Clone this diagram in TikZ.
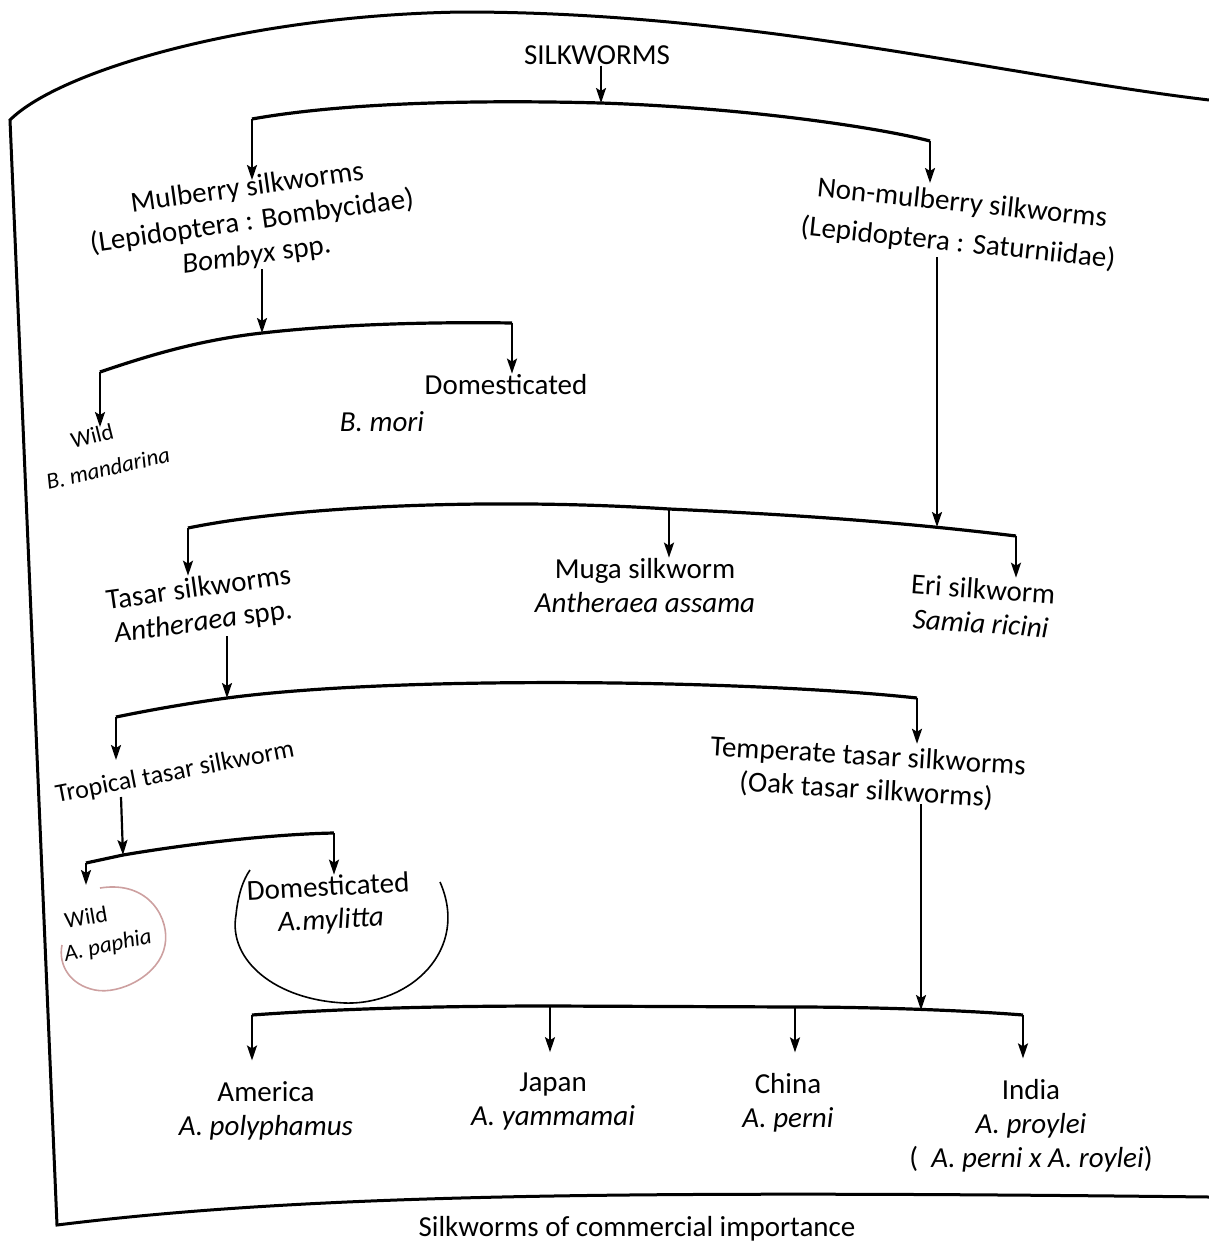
\documentclass[tikz,border=0pt]{standalone}
\usepackage{fontspec}
\setmainfont{Carlito}
\usetikzlibrary{arrows.meta}
\definecolor{pen}{RGB}{205,160,160}
\tikzset{
  lbl/.style={font=\fontsize{29}{34}\selectfont, inner sep=1pt, align=center},
  small/.style={font=\fontsize{23}{27}\selectfont, inner sep=1pt, align=center},
  arr/.style={-{Stealth[length=15pt,width=10pt,inset=3pt]}, line width=2.2pt},
  brk/.style={line width=3.2pt},
  ink/.style={line width=1.6pt},
}
\begin{document}
\begin{tikzpicture}[x=1pt,y=-1pt]
\useasboundingbox (0,0) rectangle (1209,1243);

% page frame
\draw[line width=3pt] (1209,100) .. controls (1000,75) and (750,12) .. (463,12)
  .. controls (250,15) and (60,70) .. (10,120) -- (57,1225)
  .. controls (300,1195) and (600,1190) .. (1209,1197);

% silkworms
\node[lbl] (silk) at (597,55) {SILKWORMS};
\coordinate (b1l) at (252,119);
\coordinate (b1m) at (601,103);
\coordinate (b1r) at (930,141);
\draw[brk] (b1l) .. controls (330,105) and (450,99) .. (b1m) .. controls (750,108) and (880,128) .. (b1r);
\draw[arr] (silk.south -| b1m) -- (b1m);

% mulberry
\node[lbl, rotate=8] (mulb) at (252,222) {Mulberry silkworms\\(Lepidoptera : Bombycidae)\\\textit{Bombyx} spp.};
\coordinate (mulbin) at (252,180);
\draw[arr] (b1l) -- (mulbin);

\coordinate (b2l) at (100,372);
\coordinate (b2m) at (262,333);
\coordinate (b2r) at (512,323);
\draw[brk] (b2l) .. controls (150,355) and (200,340) .. (b2m) .. controls (350,323) and (450,322) .. (b2r);
\draw[arr] (mulb.south -| b2m) -- (b2m);

\node[small, rotate=14] (mwild) at (92,436) {Wild};
\node[small, rotate=13] (mwildsp) at (108,468) {\textit{B. mandarina}};
\draw[arr] (b2l) -- (mwild.north -| b2l);
\node[lbl] (mdom) at (506,385) {Domesticated};
\node[lbl] (mdomsp) at (382,422) {\textit{B. mori}};
\draw[arr] (b2r) -- (mdom.north -| b2r);

% non-mulberry
\node[lbl, font=\fontsize{29}{40}\selectfont, rotate=-6] (nonmulb) at (960,224) {Non-mulberry silkworms\\(Lepidoptera : Saturniidae)};
\coordinate (nmin) at (930,183);
\draw[arr] (b1r) -- (nmin);

\coordinate (b3l) at (188,528);
\coordinate (b3m) at (669,509);
\coordinate (b3n) at (937,527);
\coordinate (b3r) at (1016,536);
\draw[brk] (b3l) .. controls (300,505) and (500,498) .. (b3m) .. controls (800,515) and (900,522) .. (b3r);
\draw[arr] (nonmulb.south -| b3n) -- (b3n);

\node[lbl, rotate=8] (tasar) at (201,606) {Tasar silkworms\\\textit{Antheraea} spp.};
\draw[arr] (b3l) -- (b3l |- tasar.north);
\node[lbl] (muga) at (645,586) {Muga silkworm\\\textit{Antheraea assama}};
\draw[arr] (b3m) -- (b3m |- muga.north);
\node[lbl, rotate=-4] (eri) at (982,606) {Eri silkworm\\\textit{Samia ricini}};
\draw[arr] (b3r) -- (b3r |- eri.north);

% tasar
\coordinate (b4l) at (116,717);
\coordinate (b4m) at (227,698);
\coordinate (b4r) at (917,698);
\draw[brk] (b4l) .. controls (150,710) and (190,703) .. (b4m) .. controls (400,675) and (750,680) .. (b4r);
\draw[arr] (tasar.south -| b4m) -- (b4m);

\node[lbl, font=\fontsize{26}{30}\selectfont, rotate=11] (trop) at (175,773) {Tropical tasar silkworm};
\coordinate (tropin) at (116,760);
\draw[arr] (b4l) -- (tropin);
\node[lbl, rotate=-3.5] (temp) at (867,774) {Temperate tasar silkworms\\(Oak tasar silkworms)};
\draw[arr] (b4r) -- (b4r |- temp.north);

% tropical
\coordinate (tropout) at (121,797);
\coordinate (b5l) at (86,863);
\coordinate (b5m) at (123,855);
\coordinate (b5r) at (334,833);
\draw[brk] (b5l) -- (b5m) .. controls (200,842) and (280,834) .. (b5r);
\draw[arr] (tropout) -- (b5m);

\node[small, rotate=10] (twild) at (86,917) {Wild};
\node[small, rotate=12] (twildsp) at (108,946) {\textit{A. paphia}};
\coordinate (twildin) at (86,885);
\draw[arr] (b5l) -- (twildin);
\node[lbl, rotate=3] (tdom) at (328,886) {Domesticated};
\node[lbl, rotate=3] (tdomsp) at (331,921) {\textit{A.mylitta}};
\draw[arr] (b5r) -- (b5r |- tdom.north);

% pen marks
\draw[ink, pen] (100,888) .. controls (150,880) and (170,920) .. (165,945)
  .. controls (160,975) and (120,995) .. (95,990) .. controls (70,985) and (58,965) .. (62,945);
\draw[ink] (440,882) .. controls (470,950) and (410,1005) .. (345,1003)
  .. controls (275,1000) and (228,960) .. (236,915) .. controls (238,895) and (243,880) .. (250,870);

% temperate
\coordinate (b6l) at (252,1015);
\coordinate (b6j) at (550,1006);
\coordinate (b6c) at (795,1007);
\coordinate (b6t) at (921,1010);
\coordinate (b6r) at (1023,1015);
\draw[brk] (b6l) .. controls (350,1008) and (450,1006) .. (b6j) -- (b6c) .. controls (870,1007) and (960,1010) .. (b6r);
\draw[arr] (temp.south -| b6t) -- (b6t);

\node[lbl] (amer) at (266,1111) {America\\\textit{A. polyphamus}};
\node[lbl] (japan) at (553,1102) {Japan\\\textit{A. yammamai}};
\node[lbl] (china) at (788,1103) {China\\\textit{A. perni}};
\node[lbl] (india) at (1031,1126) {India\\\textit{A. proylei}\\(~~\textit{A. perni x A. roylei})};
\draw[arr, shorten >=20pt] (b6l) -- (b6l |- amer.north);
\draw[arr, shorten >=20pt] (b6j) -- (b6j |- japan.north);
\draw[arr, shorten >=20pt] (b6c) -- (b6c |- china.north);
\draw[arr, shorten >=20pt] (b6r) -- (b6r |- india.north);

\node[lbl] (cap) at (637,1229) {Silkworms of commercial importance};
\end{tikzpicture}
\end{document}
